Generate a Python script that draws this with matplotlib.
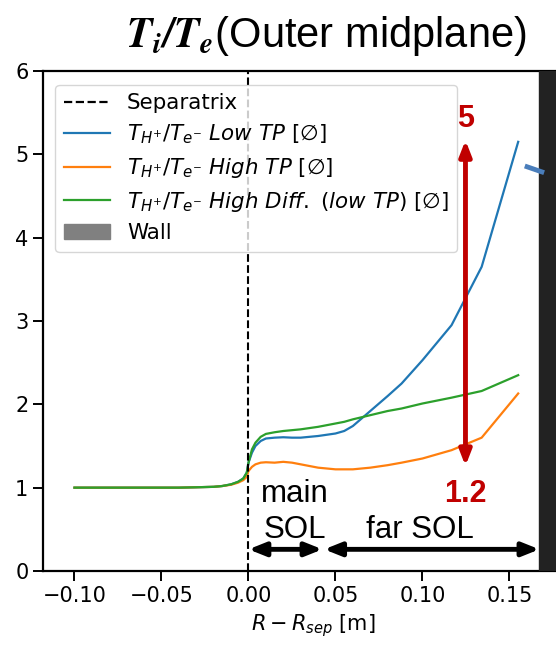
import matplotlib
matplotlib.use("Agg")
import matplotlib.pyplot as plt
from matplotlib.patches import Patch
from matplotlib.lines import Line2D

# ---- data ----
x_pos = [-0.10, -0.08, -0.06, -0.04, -0.03, -0.02, -0.015, -0.01, -0.006, -0.003,
         -0.001, 0.0, 0.002, 0.004, 0.007, 0.01, 0.015, 0.02, 0.025, 0.03, 0.04,
         0.05, 0.055, 0.06, 0.07, 0.08, 0.088, 0.1, 0.1167, 0.134, 0.155]
ratio_low_tp = [1.0, 1.0, 1.0, 1.0, 1.005, 1.01, 1.02, 1.04, 1.07, 1.11,
                1.18, 1.30, 1.42, 1.50, 1.56, 1.59, 1.60, 1.605, 1.60, 1.60, 1.62,
                1.65, 1.68, 1.74, 1.92, 2.10, 2.25, 2.53, 2.95, 3.65, 5.15]
ratio_high_tp = [1.0, 1.0, 1.0, 1.0, 1.005, 1.01, 1.02, 1.035, 1.06, 1.09,
                 1.13, 1.20, 1.25, 1.28, 1.30, 1.305, 1.30, 1.31, 1.30, 1.28, 1.24,
                 1.22, 1.22, 1.22, 1.24, 1.27, 1.30, 1.35, 1.45, 1.60, 2.13]
ratio_high_diff = [1.0, 1.0, 1.0, 1.0, 1.005, 1.01, 1.02, 1.04, 1.07, 1.11,
                   1.18, 1.30, 1.46, 1.54, 1.61, 1.645, 1.665, 1.68, 1.69, 1.70, 1.73,
                   1.77, 1.79, 1.82, 1.87, 1.92, 1.95, 2.01, 2.08, 2.16, 2.35]
labels = [r"$T_{H^{+}}/T_{e^{-}}$ $Low\ TP$ [∅]",
          r"$T_{H^{+}}/T_{e^{-}}$ $High\ TP$ [∅]",
          r"$T_{H^{+}}/T_{e^{-}}$ $High\ Diff.\ (low\ TP)$ [∅]"]
colors = ["#1f77b4", "#ff7f0e", "#2ca02c"]
wall_x = 0.1672
range_top, range_bottom = 5.17, 1.26
range_x = 0.1247
main_sol = [0.0, 0.0425]
far_sol = [0.0435, wall_x]

fig = plt.figure(figsize=(5.56, 6.46), dpi=100)
# axes runs past the right edge of the figure (cropped like the reference)
ax = fig.add_axes([43/556, 75/646, 540/556, 500/646])
ax.set_xlim(-0.1181, -0.1181 + 540 / 1740)
ax.set_ylim(0, 6)

ax.axvline(0.0, color="black", ls="--", lw=1.5, zorder=3)
for y, lab, c in zip([ratio_low_tp, ratio_high_tp, ratio_high_diff], labels, colors):
    ax.plot(x_pos, y, color=c, lw=1.6, label=lab, zorder=2)
ax.axvspan(wall_x, 1.0, color="#222222", zorder=4)

handles = [Line2D([], [], color="black", ls="--", lw=1.6)] + \
          [Line2D([], [], color=c, lw=1.6) for c in colors] + \
          [Patch(facecolor="gray", edgecolor="gray")]
names = ["Separatrix"] + labels + ["Wall"]
leg = ax.legend(handles, names, loc="upper left", fontsize=15.4,
                bbox_to_anchor=(0.003, 0.994), handlelength=2.15,
                borderpad=0.4, labelspacing=0.45, handletextpad=0.8,
                framealpha=0.8)
leg.set_zorder(5)

ax.set_xticks([-0.10, -0.05, 0.0, 0.05, 0.10, 0.15])
ax.set_xticklabels(["\u22120.10", "\u22120.05", "0.00", "0.05", "0.10", "0.15"])
ax.set_yticks(range(7))
ax.tick_params(labelsize=15, length=7, width=1.4)
for s in ax.spines.values():
    s.set_linewidth(1.6)
ax.set_xlabel(r"$R - R_{sep}$ [m]", fontsize=15, labelpad=5)

# red range arrow
ax.annotate("", xy=(range_x, range_top), xytext=(range_x, range_bottom),
            arrowprops=dict(arrowstyle="<|-|>,head_length=0.9,head_width=0.35",
                            color="#C00000", lw=3.5, shrinkA=0, shrinkB=0), zorder=6)
ax.text(range_x, 5.42, "5", color="#C00000", fontsize=22, fontweight="bold",
        family="Liberation Sans", ha="center", va="center", zorder=6)
ax.text(range_x, 0.93, "1.2", color="#C00000", fontsize=22, fontweight="bold",
        family="Liberation Sans", ha="center", va="center", zorder=6)

# SOL arrows
for seg in (main_sol, far_sol):
    ax.annotate("", xy=(seg[1], 0.26), xytext=(seg[0], 0.26),
                arrowprops=dict(arrowstyle="<|-|>,head_length=1.0,head_width=0.4",
                                color="black", lw=3.5, shrinkA=0, shrinkB=0), zorder=6)
ax.text(0.0265, 0.93, "main", fontsize=22.5, family="Liberation Sans",
        ha="center", va="center", zorder=6)
ax.text(0.0265, 0.49, "SOL", fontsize=22.5, family="Liberation Sans",
        ha="center", va="center", zorder=6)
ax.text(0.0985, 0.49, "far SOL", fontsize=22.5, family="Liberation Sans",
        ha="center", va="center", zorder=6)

# small blue stroke near wall
ax.plot([0.1588, 0.1699], [4.86, 4.78], color="#4a7ebb", lw=3.5,
        solid_capstyle="butt", zorder=7)

fig.text(0.587, 0.945, r"$\mathbfit{T_i/T_e}$(Outer midplane)", fontsize=30,
         family="Liberation Sans", math_fontfamily="stix",
         ha="center", va="center")

fig.savefig("out.png", dpi=100)
